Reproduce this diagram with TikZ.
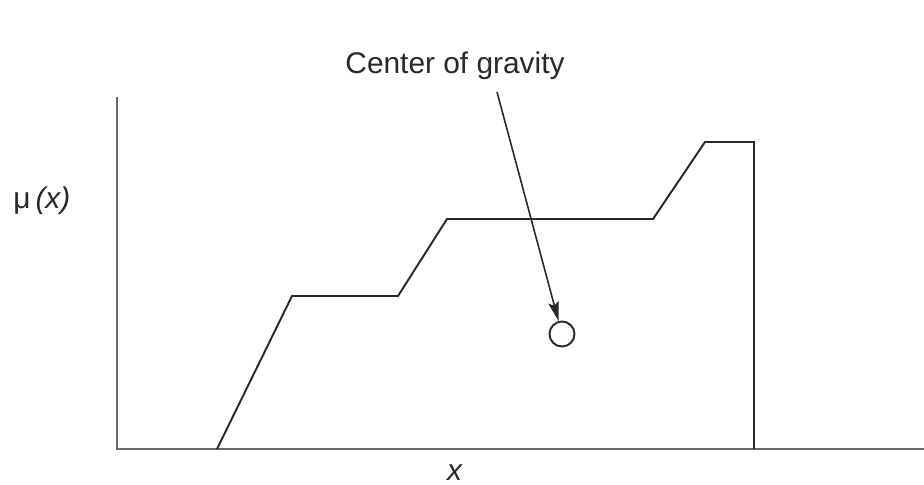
\documentclass[tikz,border=0pt]{standalone}
\usepackage{fontspec}
\setmainfont{Liberation Sans}
\usetikzlibrary{arrows.meta}
\definecolor{fzaxis}{RGB}{105,105,105}
\definecolor{fzline}{RGB}{40,40,40}

\begin{document}
\begin{tikzpicture}[x=0.02cm, y=-0.02cm,
  axisline/.style={fzaxis, line width=1.5pt},
  curveline/.style={fzline, line width=1.1pt, line join=miter},
  lbl/.style={font=\fontsize{17}{20}\selectfont, text=fzline, inner sep=0pt}]
\useasboundingbox (0,0) rectangle (924,484);

% ================= axes =================
\coordinate (origin) at (117,449);
\coordinate (ytop) at (117,97);
\coordinate (xend) at (924,449);
\draw[axisline] (ytop) -- (origin) -- (xend);
\node[lbl, anchor=base west] (ylab) at (13,208) {μ\,\textit{(x)}};
\node[lbl, anchor=base] (xlab) at (455,480) {\textit{x}};

% ================= aggregated output set =================
\draw[curveline] (217,449) -- (292,296) -- (398,296) -- (447,219)
  -- (653,219) -- (705,142) -- (754,142) -- (754,449);

% ================= centre of gravity =================
\node[draw=fzline, line width=1.1pt, circle, minimum size=0.5cm,
      inner sep=0pt] (cog) at (562,334) {};
\node[lbl, anchor=base] (coglab) at (455,73) {Center of gravity};
\coordinate (cogtail) at (497,92);
\draw[fzline, line width=0.9pt,
      -{Stealth[length=11pt, width=6pt, inset=2pt]}]
  (cogtail) -- (cog);
\end{tikzpicture}
\end{document}
